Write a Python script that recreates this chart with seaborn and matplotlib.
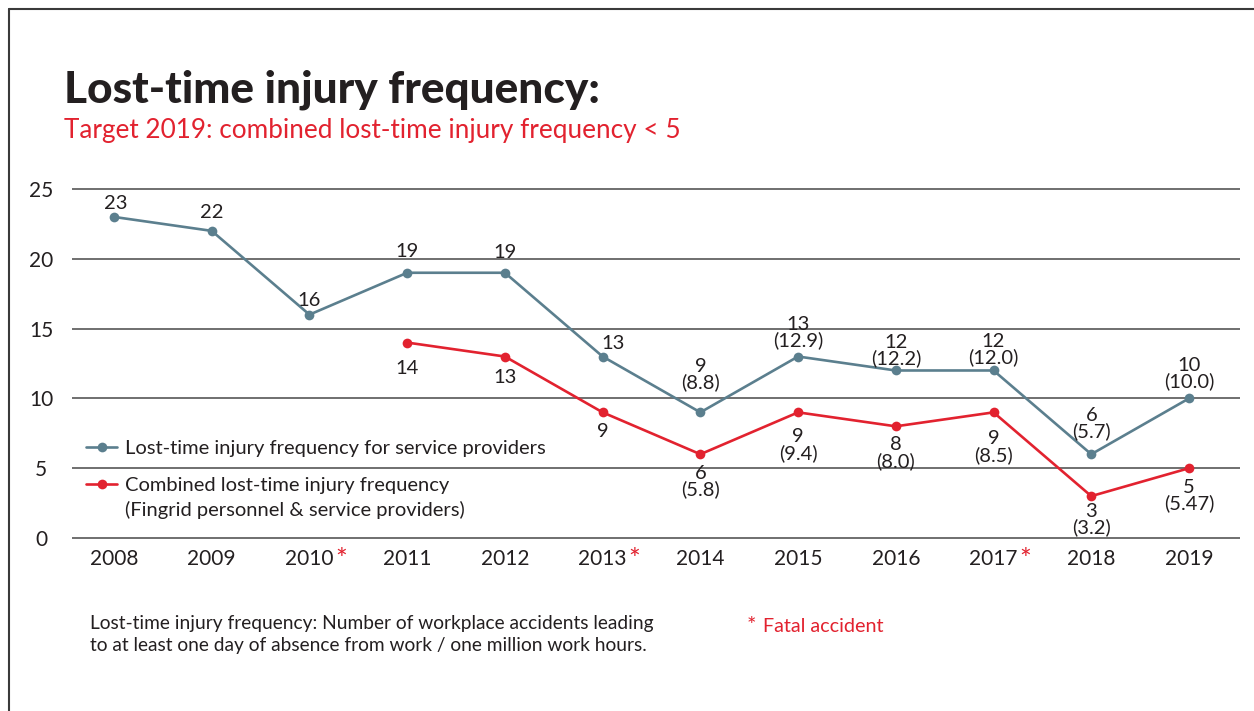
import numpy as np
import pandas as pd
import matplotlib
matplotlib.use("Agg")
import matplotlib.pyplot as plt
import seaborn as sns
from matplotlib.lines import Line2D

# ---------------- data ----------------
years = ["2008", "2009", "2010", "2011", "2012", "2013",
         "2014", "2015", "2016", "2017", "2018", "2019"]
fatal_years = ["2010", "2013", "2017"]
service_providers = [23, 22, 16, 19, 19, 13, 9, 13, 12, 12, 6, 10]
service_exact = ["", "", "", "", "", "", "8.8", "12.9", "12.2", "12.0", "5.7", "10.0"]
combined = [np.nan, np.nan, np.nan, 14, 13, 9, 6, 9, 8, 9, 3, 5]
combined_exact = ["", "", "", "", "", "", "5.8", "9.4", "8.0", "8.5", "3.2", "5.47"]
yticks = [0, 5, 10, 15, 20, 25]

label_service = "Lost-time injury frequency for service providers"
label_combined = "Combined lost-time injury frequency"
label_combined2 = "(Fingrid personnel & service providers)"
title = "Lost-time injury frequency:"
subtitle = "Target 2019: combined lost-time injury frequency < 5"
footnote1 = "Lost-time injury frequency: Number of workplace accidents leading"
footnote2 = "to at least one day of absence from work / one million work hours."
fatal_note = "Fatal accident"

# ---------------- style ----------------
BLUE = "#5b7f8e"
RED = "#e2222f"
TXT = "#231f20"
GRID = "#6f6f6f"

sns.set_theme(style="white")
plt.rcParams["font.family"] = ["Lato", "DejaVu Sans"]

W, H = 1254, 711
fig = plt.figure(figsize=(W / 100, H / 100), dpi=100)
px = 0.72  # px -> pt

# axes: y=0 at 538px, y=25 at 189px ; x index 0 at 114px, 11 at 1189px
ymin, ymax = -0.3, 25.3
ppu = (538 - 189) / 25.0
ax_bottom = 538 + (0 - ymin) * ppu
ax_top = 189 - (ymax - 25) * ppu
xl, xr = 72, 1240
step = (1189 - 114) / 11.0
ax = fig.add_axes([xl / W, 1 - ax_bottom / H, (xr - xl) / W, (ax_bottom - ax_top) / H])
ax.set_xlim(-(114 - xl) / step, 11 + (xr - 1189) / step)
ax.set_ylim(ymin, ymax)

df = pd.DataFrame({"idx": np.arange(len(years)), "year": years,
                   "service": service_providers, "combined": combined})

sns.lineplot(data=df, x="idx", y="service", ax=ax, color=BLUE, lw=1.9,
             marker="o", markersize=7, markeredgewidth=0, label=label_service,
             zorder=3)
sns.lineplot(data=df.dropna(), x="idx", y="combined", ax=ax, color=RED, lw=1.9,
             marker="o", markersize=7, markeredgewidth=0, label=label_combined,
             zorder=3)

# grid
ax.set_yticks(yticks)
ax.yaxis.grid(True, color=GRID, lw=1.4)
ax.xaxis.grid(False)
for s in ax.spines.values():
    s.set_visible(False)
ax.set_xlabel("")
ax.set_ylabel("")
ax.set_xticks(range(len(years)))
ax.set_xticklabels(years)
ax.tick_params(axis="x", length=0, pad=5, labelsize=15, labelcolor=TXT)
ax.tick_params(axis="y", length=0, pad=31 * px, labelsize=15, labelcolor=TXT)
for t in ax.get_yticklabels():
    t.set_horizontalalignment("center")

# fatal accident asterisks
for i, y in enumerate(years):
    if y in fatal_years:
        ax.annotate("*", xy=(i, 0), xycoords=("data", "axes fraction"),
                    xytext=(32 * px, -27 * px), textcoords="offset points",
                    ha="center", va="baseline", color=RED, fontsize=20)

# data labels
blue_gap = [5, 10, 6, 13, 12, 5, 21, 7, 3, 4, 14, 8]
blue_dx = [2, 0, 0, 0, 0, 10, 0, 0, 0, 0, 0, 0]
red_gap = [0, 0, 0, 17, 12, 11, 11, 16, 10, 18, 7, 11]
for i, (v, e) in enumerate(zip(service_providers, service_exact)):
    s = f"{v}" + (f"\n({e})" if e else "")
    ax.annotate(s, xy=(i, v), xytext=(blue_dx[i] * px, blue_gap[i] * px),
                textcoords="offset points", ha="center", va="bottom",
                fontsize=14.5, color=TXT, linespacing=0.9, zorder=4)
for i, (v, e) in enumerate(zip(combined, combined_exact)):
    if np.isnan(v):
        continue
    s = f"{int(v)}" + (f"\n({e})" if e else "")
    ax.annotate(s, xy=(i, v), xytext=(0, -red_gap[i] * px),
                textcoords="offset points", ha="center", va="top",
                fontsize=14.5, color=TXT, linespacing=0.9, zorder=4)

# legend
leg = ax.legend(loc="upper left", bbox_to_anchor=(86 / W, 1 - 440 / H),
                bbox_transform=fig.transFigure, frameon=False, fontsize=14.5,
                handlelength=1.55, handletextpad=0.4, labelspacing=0.98,
                borderpad=0, borderaxespad=0)
for t in leg.get_texts():
    t.set_color(TXT)
fig.text(125 / W, 1 - 510 / H, label_combined2, ha="left", va="center",
         fontsize=14.5, color=TXT)

# titles
fig.text(64 / W, 1 - 102 / H, title, ha="left", va="baseline",
         fontsize=31.8, fontweight="black", color=TXT)
fig.text(64 / W, 1 - 138 / H, subtitle, ha="left", va="baseline",
         fontsize=18.8, color=RED)

# footnotes
fig.text(90 / W, 1 - 629 / H, footnote1, ha="left", va="baseline",
         fontsize=13.8, color=TXT)
fig.text(90 / W, 1 - 651 / H, footnote2, ha="left", va="baseline",
         fontsize=13.8, color=TXT)
fig.text(751.5 / W, 1 - 632 / H, "*", ha="center", va="baseline",
         fontsize=16, color=RED)
fig.text(763 / W, 1 - 632 / H, fatal_note, ha="left", va="baseline",
         fontsize=14.2, color=RED)

# border
fig.add_artist(Line2D([9 / W, 1], [1 - 9 / H, 1 - 9 / H], transform=fig.transFigure,
                      color="#3a3a3a", lw=1.5))
fig.add_artist(Line2D([9 / W, 9 / W], [1 - 9 / H, 0], transform=fig.transFigure,
                      color="#3a3a3a", lw=1.5))

fig.savefig("out.png", dpi=100)
